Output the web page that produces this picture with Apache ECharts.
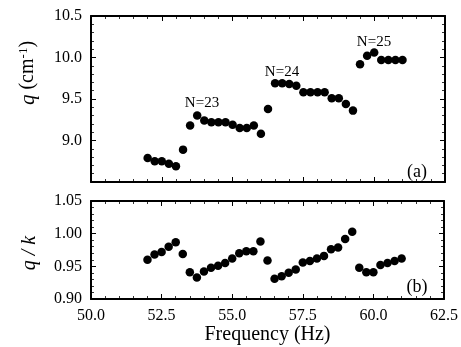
<!DOCTYPE html>
<html><head><meta charset="utf-8">
<script src="https://cdn.jsdelivr.net/npm/echarts@6/dist/echarts.min.js"></script>
<style>html,body{margin:0;padding:0;background:#fff}#c{width:461px;height:347px}</style>
</head><body><div id="c"></div>
<script>
const freq = [52.0,52.25,52.5,52.75,53.0,53.25,53.5,53.75,54.0,54.25,54.5,54.75,55.0,55.25,55.5,55.75,56.0,56.25,56.5,56.75,57.0,57.25,57.5,57.75,58.0,58.25,58.5,58.75,59.0,59.25,59.5,59.75,60.0,60.25,60.5,60.75,61.0];
const qVals = [8.79,8.75,8.75,8.72,8.69,8.89,9.18,9.30,9.24,9.22,9.22,9.22,9.19,9.15,9.15,9.18,9.08,9.38,9.69,9.69,9.68,9.66,9.58,9.58,9.58,9.58,9.51,9.51,9.44,9.36,9.92,10.02,10.06,9.97,9.97,9.97,9.97];
const qkVals = [0.960,0.968,0.972,0.980,0.987,0.969,0.941,0.933,0.942,0.948,0.951,0.955,0.962,0.970,0.973,0.973,0.988,0.959,0.931,0.935,0.940,0.945,0.956,0.958,0.962,0.966,0.976,0.979,0.992,1.003,0.948,0.941,0.941,0.952,0.955,0.958,0.962];
const xTicks = ['50.0','52.5','55.0','57.5','60.0','62.5'];
const annotations = [['N=23',202,103],['N=24',282,72],['N=25',374,42]];

const FONT = 'Liberation Serif';
const chart = echarts.init(document.getElementById('c'));
const line = {show:true, onZero:false, lineStyle:{color:'#000', width:2}};
const tick = {show:true, inside:true, length:5, lineStyle:{color:'#000', width:1}};
const minor = {show:true, splitNumber:5, length:3, lineStyle:{color:'#000', width:0.8}};
function xAx(grid, pos, labels){
  return {type:'value', gridIndex:grid, position:pos, min:50, max:62.5, interval:2.5,
    axisLine:line, axisTick:tick, minorTick:minor, splitLine:{show:false},
    axisLabel:{show:labels, margin:9, color:'#000', fontFamily:FONT, fontSize:16,
      formatter:v=>xTicks[Math.round((v-50)/2.5)]},
    name: labels ? 'Frequency (Hz)' : '', nameLocation:'middle', nameGap:21,
    nameTextStyle:{fontFamily:FONT, fontSize:20, color:'#000', verticalAlign:'top'}};
}
function yAx(grid, pos, min, max, iv, labels, dec){
  return {type:'value', gridIndex:grid, position:pos, min:min, max:max, interval:iv,
    axisLine:line, axisTick:tick, minorTick:minor, splitLine:{show:false},
    axisLabel:{show:labels, showMinLabel: grid===0 ? false : true, margin:9, color:'#000', fontFamily:FONT, fontSize:16,
      formatter:v=>v.toFixed(dec)}};
}
const option = {
  animation:false,
  grid:[{left:91, right:16, top:16, height:166},{left:91, right:16, top:201, height:98}],
  xAxis:[xAx(0,'bottom',false), xAx(0,'top',false), xAx(1,'bottom',true), xAx(1,'top',false)],
  yAxis:[yAx(0,'left',8.5,10.5,0.5,true,1), yAx(0,'right',8.5,10.5,0.5,false,1),
         yAx(1,'left',0.90,1.05,0.05,true,2), yAx(1,'right',0.90,1.05,0.05,false,2)],
  series:[
    {type:'scatter', xAxisIndex:0, yAxisIndex:0, symbolSize:8.5, itemStyle:{color:'#000', opacity:1},
     data:freq.map((f,i)=>[f,qVals[i]])},
    {type:'scatter', xAxisIndex:2, yAxisIndex:2, symbolSize:8.5, itemStyle:{color:'#000', opacity:1},
     data:freq.map((f,i)=>[f,qkVals[i]])}
  ],
  graphic:[
    ...annotations.map(a=>({type:'text', x:a[1], y:a[2], style:{text:a[0], fontFamily:FONT, fontSize:15, fill:'#000', align:'center', verticalAlign:'middle'}})),
    {type:'text', x:417, y:172, style:{text:'(a)', fontFamily:FONT, fontSize:18, fill:'#000', align:'center', verticalAlign:'middle'}},
    {type:'text', x:417, y:287, style:{text:'(b)', fontFamily:FONT, fontSize:18, fill:'#000', align:'center', verticalAlign:'middle'}},
    {type:'text', x:28, y:73, rotation:Math.PI/2, style:{text:'{i|q} (cm{s|-1})', align:'center', verticalAlign:'middle', fill:'#000',
      rich:{i:{fontFamily:FONT, fontSize:21, fontStyle:'italic'}, s:{fontFamily:FONT, fontSize:13, verticalAlign:'top', padding:[0,0,9,0]}},
      fontFamily:FONT, fontSize:20}},
    {type:'text', x:30, y:253, rotation:Math.PI/2, style:{text:'q / k', align:'center', verticalAlign:'middle', fill:'#000',
      fontFamily:FONT, fontSize:20, fontStyle:'italic'}}
  ]
};
chart.setOption(option);
</script></body></html>
